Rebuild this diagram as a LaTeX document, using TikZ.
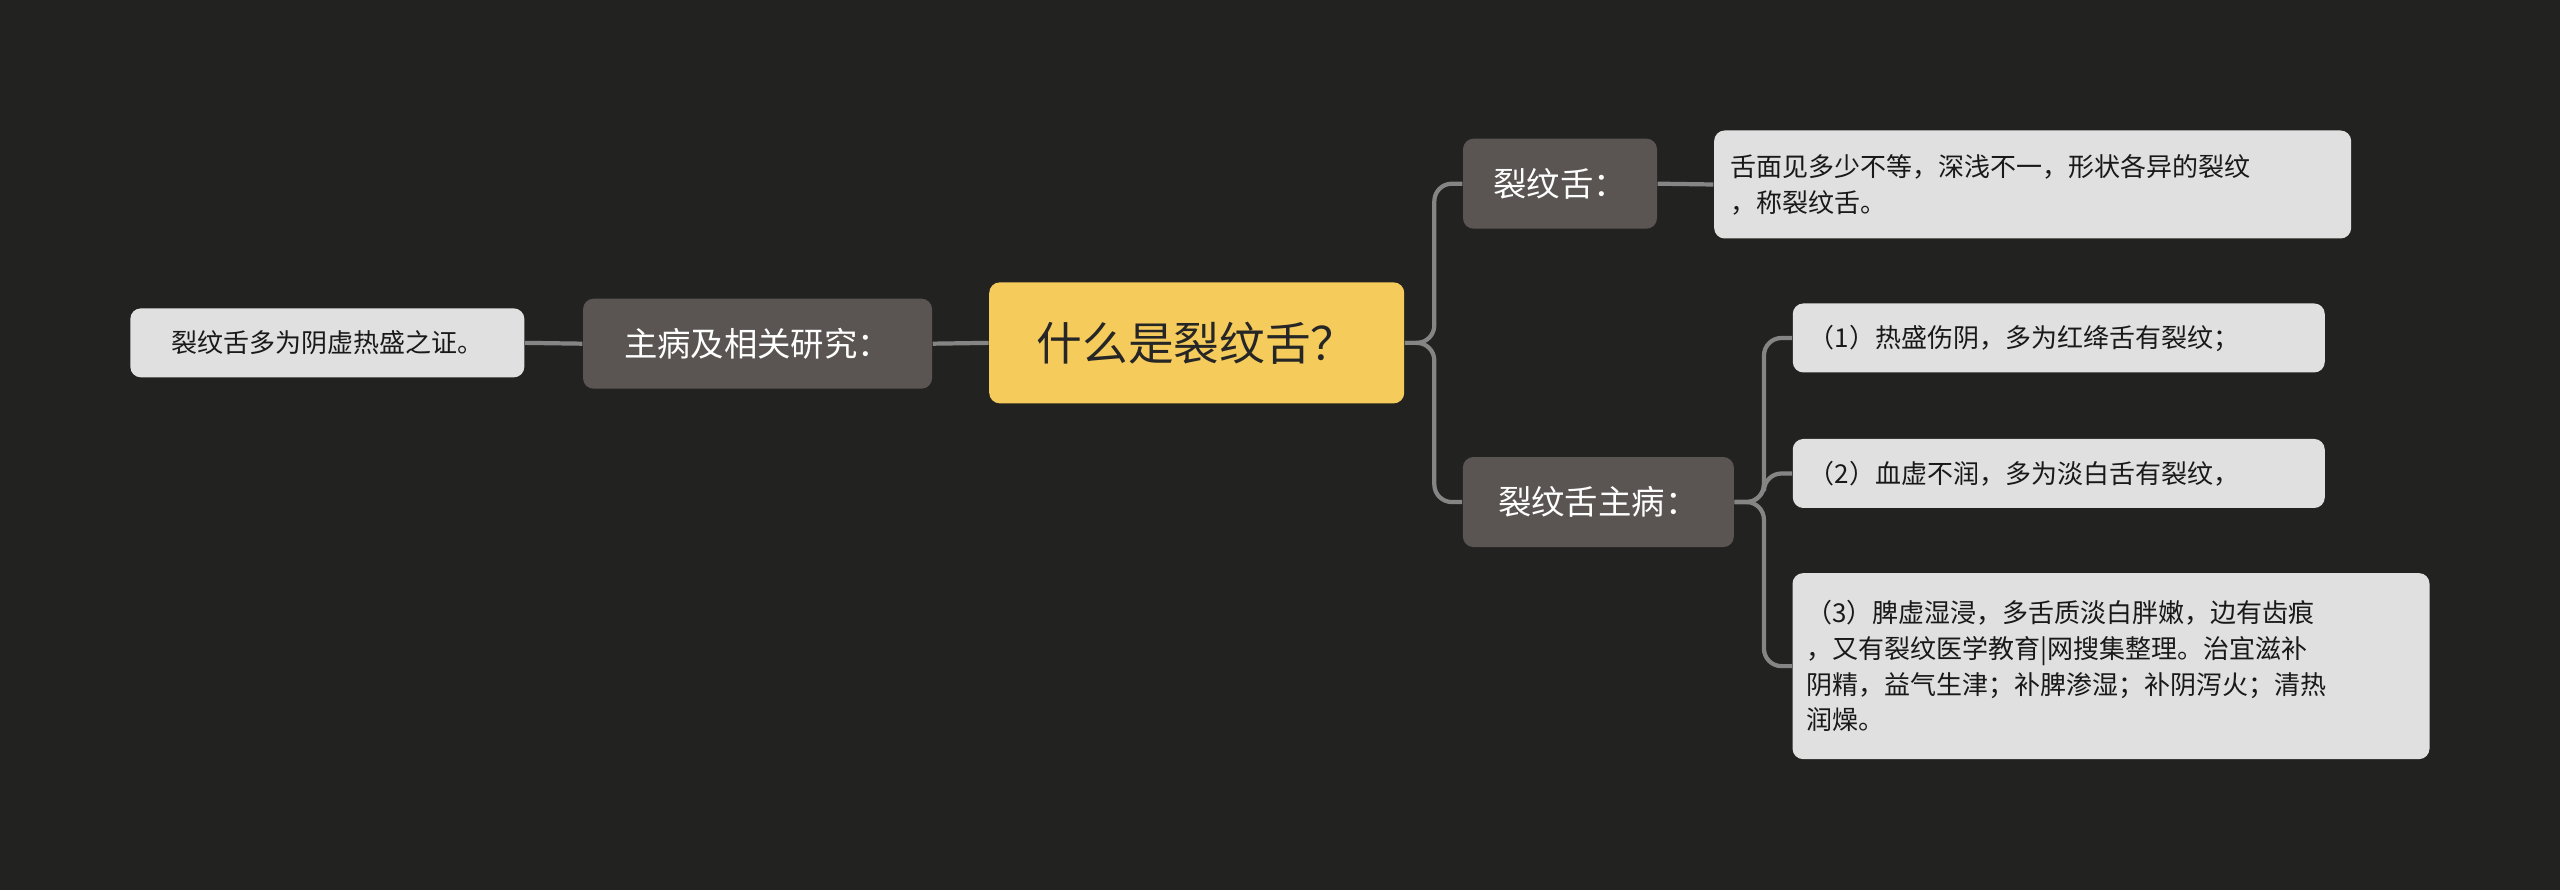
\documentclass[tikz,border=0pt]{standalone}
\usepackage{fontspec}
\setmainfont{Noto Sans CJK SC}
\definecolor{bgc}{HTML}{222221}
\definecolor{rootc}{HTML}{F5CB5C}
\definecolor{topicc}{HTML}{5A5552}
\definecolor{leafc}{HTML}{E0E0E0}
\definecolor{linec}{HTML}{858585}
\begin{document}
\begin{tikzpicture}[x=0.01633cm,y=-0.01633cm,
    root/.style={rectangle, rounded corners=3pt, fill=rootc, text=black!85,
        font=\fontsize{13}{15}\selectfont, inner sep=0pt},
    topic/.style={rectangle, rounded corners=3pt, fill=topicc, text=white,
        font=\fontsize{9.5}{11}\selectfont, inner sep=0pt},
    leaf/.style={rectangle, rounded corners=3pt, fill=leafc, text=black!90,
        font=\fontsize{7.4}{10.2}\selectfont, inner sep=0pt},
    conn/.style={draw=linec, line width=1.2pt, rounded corners=5pt}]
    \fill[bgc] (0,0) rectangle (1568,545);
    \useasboundingbox (0,0) rectangle (1568,545);

    \node[root, minimum width=4.15cm, minimum height=1.21cm] (ctr) at (733,210) {什么是裂纹舌？};
    \node[topic, minimum width=3.49cm, minimum height=0.9cm] (main) at (464,210.5) {主病及相关研究：};
    \node[leaf, minimum width=3.94cm, minimum height=0.69cm] (mainleaf) at (200.5,210) {裂纹舌多为阴虚热盛之证。};

    \node[topic, minimum width=1.94cm, minimum height=0.9cm] (crack) at (955.5,112.5) {裂纹舌：};
    \node[leaf, minimum width=6.37cm, minimum height=1.08cm, text width=6.05cm, align=left] (def) at (1245,113)
        {舌面见多少不等，深浅不一，形状各异的裂纹\\，称裂纹舌。};

    \node[topic, minimum width=2.71cm, minimum height=0.9cm] (dis) at (979,307.5) {裂纹舌主病：};
    \node[leaf, minimum width=5.32cm, minimum height=0.69cm, text width=5.0cm, align=left] (c1) at (1261,207)
        {（1）热盛伤阴，多为红绛舌有裂纹；};
    \node[leaf, minimum width=5.32cm, minimum height=0.69cm, text width=5.0cm, align=left] (c2) at (1261,290)
        {（2）血虚不润，多为淡白舌有裂纹，};
    \node[leaf, minimum width=6.37cm, minimum height=1.86cm, text width=6.1cm, align=left] (c3) at (1293,408)
        {（3）脾虚湿浸，多舌质淡白胖嫩，边有齿痕\\，又有裂纹医学教育|网搜集整理。治宜滋补\\阴精，益气生津；补脾渗湿；补阴泻火；清热\\润燥。};

    \draw[conn] (ctr.west) -- (main.east);
    \draw[conn] (main.west) -- (mainleaf.east);
    \draw[conn] (ctr.east) -- ++(18,0) |- (crack.west);
    \draw[conn] (ctr.east) -- ++(18,0) |- (dis.west);
    \draw[conn] (crack.east) -- (def.west);
    \draw[conn] (dis.east) -- ++(18,0) |- (c1.west);
    \draw[conn] (dis.east) -- ++(18,0) |- (c2.west);
    \draw[conn] (dis.east) -- ++(18,0) |- (c3.west);
\end{tikzpicture}
\end{document}
